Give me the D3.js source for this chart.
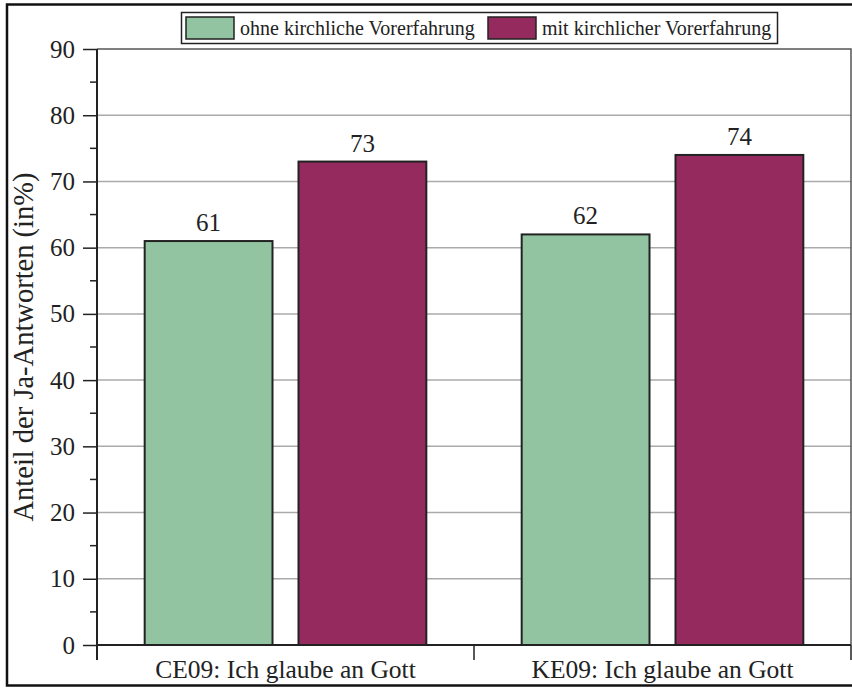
<!DOCTYPE html>
<html><head><meta charset="utf-8">
<script src="https://cdn.jsdelivr.net/npm/d3@7"></script>
<style>body{margin:0;background:#fff}svg{display:block}</style>
</head><body>
<script>
const categories = ["CE09: Ich glaube an Gott", "KE09: Ich glaube an Gott"];
const seriesNames = ["ohne kirchliche Vorerfahrung", "mit kirchlicher Vorerfahrung"];
const ohne = [61, 62];
const mit = [73, 74];
const yTicks = [0, 10, 20, 30, 40, 50, 60, 70, 80, 90];
const colors = ["#93c4a1", "#952a5e"];
const yTitle = "Anteil der Ja-Antworten (in%)";

const W = 852, H = 688;
const m = {left: 97, right: 851, top: 49, bottom: 645};
const font = "'Liberation Serif', 'DejaVu Serif', serif";
const svg = d3.select("body").append("svg").attr("width", W).attr("height", H);

// outer frame
svg.append("rect").attr("x", 7).attr("y", 4.5).attr("width", 850).attr("height", 681)
  .attr("fill", "none").attr("stroke", "#111").attr("stroke-width", 2.5);

const y = d3.scaleLinear().domain([0, 90]).range([m.bottom, m.top]);
const x0 = d3.scaleBand().domain(categories).range([m.left, m.right]).paddingInner(0).paddingOuter(0);
const x1 = d3.scaleBand().domain([0, 1]).range([0, x0.bandwidth()]).paddingInner(0.169).paddingOuter(0.31);

// grid
svg.append("g").selectAll("line").data(yTicks.filter(d => d > 0 && d < 90)).join("line")
  .attr("x1", m.left).attr("x2", m.right).attr("y1", d => y(d)).attr("y2", d => y(d))
  .attr("stroke", "#aaa").attr("stroke-width", 1.5);

// plot box top and right
svg.append("path").attr("d", `M${m.left},${m.top}H${m.right}V${m.bottom}`)
  .attr("fill", "none").attr("stroke", "#555").attr("stroke-width", 1.5);

// bars
const data = categories.map((c, i) => [ohne[i], mit[i]]);
const g = svg.append("g");
categories.forEach((c, i) => {
  data[i].forEach((v, j) => {
    const bx = x0(c) + x1(j);
    g.append("rect").attr("x", bx).attr("y", y(v)).attr("width", x1.bandwidth()).attr("height", y(0) - y(v))
      .attr("fill", colors[j]).attr("stroke", "#222").attr("stroke-width", 2);
    g.append("text").attr("x", bx + x1.bandwidth() / 2).attr("y", y(v) - 10)
      .attr("text-anchor", "middle").attr("font-family", font).attr("font-size", 25).attr("fill", "#222").text(v);
  });
});

// y axis
const yAxis = d3.axisLeft(y).tickValues(yTicks).tickSize(14).tickPadding(8);
const ya = svg.append("g").attr("transform", `translate(${m.left},0)`).call(yAxis);
ya.select(".domain").remove();
ya.selectAll(".tick line").attr("stroke", "#222").attr("stroke-width", 1.5);
ya.selectAll(".tick text").attr("font-family", font).attr("font-size", 25).attr("fill", "#222");
const minor = d3.range(5, 90, 10);
svg.append("g").selectAll("line").data(minor).join("line")
  .attr("x1", m.left - 7).attr("x2", m.left).attr("y1", d => y(d)).attr("y2", d => y(d))
  .attr("stroke", "#222").attr("stroke-width", 1.5);
svg.append("line").attr("x1", m.left).attr("x2", m.left).attr("y1", m.top).attr("y2", m.bottom + 15)
  .attr("stroke", "#222").attr("stroke-width", 2);

// x axis
svg.append("line").attr("x1", m.left).attr("x2", m.right).attr("y1", m.bottom).attr("y2", m.bottom)
  .attr("stroke", "#222").attr("stroke-width", 2);
const bounds = [m.left + x0.bandwidth(), m.right];
svg.append("g").selectAll("line").data(bounds).join("line")
  .attr("x1", d => d).attr("x2", d => d).attr("y1", m.bottom).attr("y2", m.bottom + 15)
  .attr("stroke", "#222").attr("stroke-width", 1.5);
svg.append("g").selectAll("text").data(categories).join("text")
  .attr("x", d => x0(d) + x0.bandwidth() / 2).attr("y", 678)
  .attr("text-anchor", "middle").attr("font-family", font).attr("font-size", 25.5).attr("fill", "#222").text(d => d);

// y title
svg.append("text").attr("transform", `translate(33,${(m.top + m.bottom) / 2}) rotate(-90)`)
  .attr("text-anchor", "middle").attr("font-family", font).attr("font-size", 28.5).attr("fill", "#222").text(yTitle);

// legend
const lg = svg.append("g");
lg.append("rect").attr("x", 181.5).attr("y", 12.5).attr("width", 596).attr("height", 31)
  .attr("fill", "#fff").attr("stroke", "#222").attr("stroke-width", 1.5);
const legX = [186, 488];
seriesNames.forEach((s, i) => {
  lg.append("rect").attr("x", legX[i]).attr("y", 17).attr("width", 48).attr("height", 22)
    .attr("fill", colors[i]).attr("stroke", "#222").attr("stroke-width", 1.5);
  lg.append("text").attr("x", legX[i] + 54).attr("y", 34.5).attr("font-family", font).attr("font-size", 20)
    .attr("fill", "#222").text(s);
});
</script>
</body></html>
